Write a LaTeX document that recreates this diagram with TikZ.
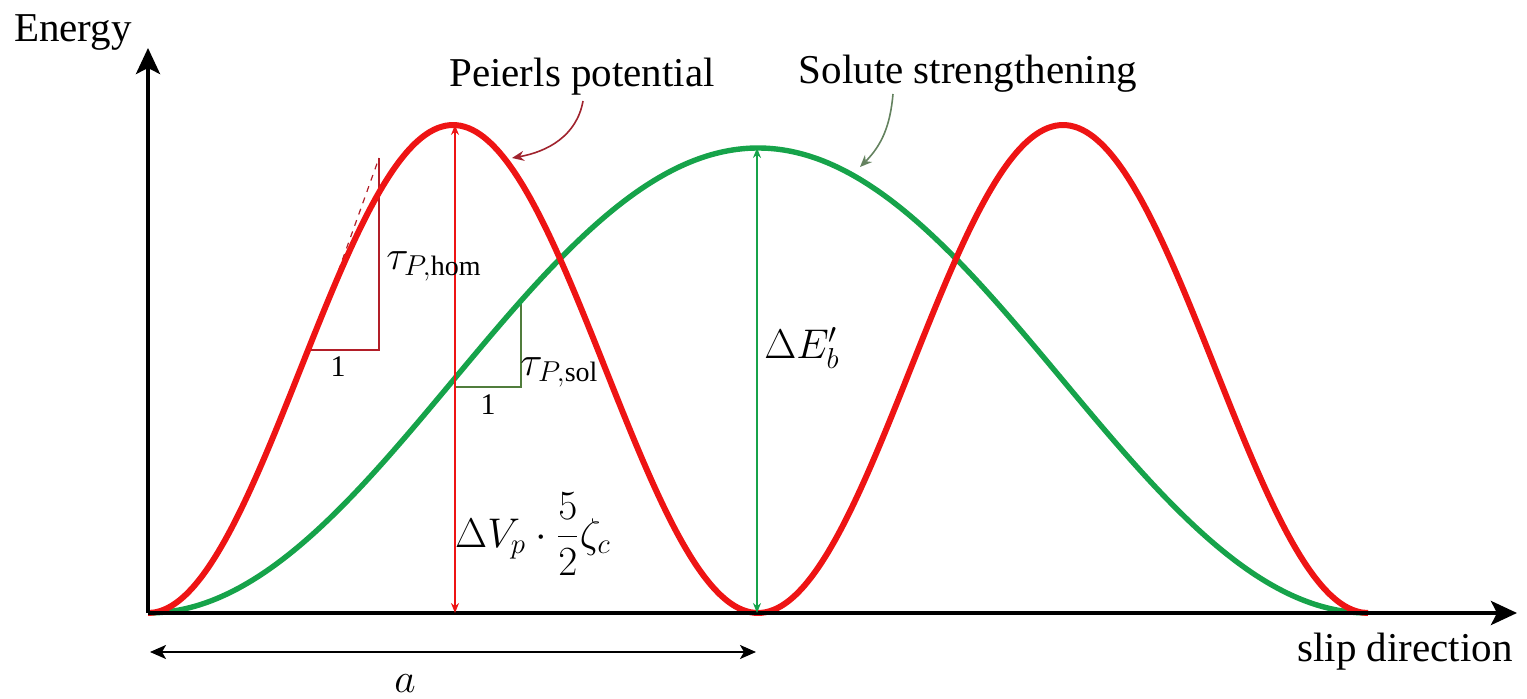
\documentclass[tikz,border=0pt]{standalone}
\usepackage{fontspec}
\setmainfont{Liberation Serif}
\usetikzlibrary{arrows.meta}
\definecolor{cred}{RGB}{238,20,20}
\definecolor{cgreen}{RGB}{22,163,74}
\definecolor{tdred}{RGB}{178,30,40}
\definecolor{tdgreen}{RGB}{80,125,60}
\definecolor{arrred}{RGB}{160,35,45}
\definecolor{arrgreen}{RGB}{100,130,95}
\tikzset{
  lbl/.style={font=\fontsize{20.5}{24}\selectfont, inner sep=0pt},
  mlbl/.style={font=\fontsize{20}{24}\selectfont, inner sep=0pt},
  axis/.style={line width=2pt, -{Stealth[length=13pt,width=12pt,inset=3pt]}},
  dimarrow/.style={line width=1pt, {Stealth[length=5pt,width=4pt]}-{Stealth[length=5pt,width=4pt]}},
  tri/.style={line width=0.9pt},
}
\begin{document}
\begin{tikzpicture}[x=0.5pt,y=-0.5pt]
\useasboundingbox (0,0) rectangle (1527,699);
% coordinates
\coordinate (O) at (148,613);
\coordinate (Ytip) at (148,48);
\coordinate (Xtip) at (1517,613);
\coordinate (Ptop) at (455,125);
\coordinate (Pbot) at (455,613);
\coordinate (Gtop) at (757,148);
\coordinate (Gbot) at (757,613);
\coordinate (A1) at (150,652);
\coordinate (A2) at (756,652);
\coordinate (T1) at (310,350);
\coordinate (T2) at (379,350);
\coordinate (T3) at (379,158);
\coordinate (S1) at (455,387);
\coordinate (S2) at (521,387);
\coordinate (S3) at (521,302);
\coordinate (PA) at (512,158);
\coordinate (SA) at (860,167);
% tangent triangles (under curves)
\draw[tdred, line width=0.6pt, dashed] (T1) -- (T3);
\draw[tdred, tri] (T1) -- (T2) -- (T3);
\draw[tdgreen, tri] (S1) -- (S2) -- (S3);
% curves
\draw[cgreen, line width=2.7pt] plot[domain=0:1220, samples=121, smooth] ({\x+148}, {613-232.5*(1-cos(0.295082*\x))});
\draw[cred, line width=3pt, line join=round] plot[domain=0:1220, samples=161, smooth] ({\x+148}, {613-244*(1-cos(0.590164*\x))});
% axes
\draw[axis] (O) -- (Ytip);
\draw[axis] (O) -- (Xtip);
% dimension arrows
\draw[dimarrow, cred] (Pbot) -- (Ptop);
\draw[dimarrow, cgreen] (Gbot) -- (Gtop);
\draw[line width=1pt, {Stealth[length=8pt,width=7pt,inset=2pt]}-{Stealth[length=8pt,width=7pt,inset=2pt]}] (A1) -- (A2);
% labels
\node[lbl] (energy) at (73,33) {Energy};
\node[lbl] (slip) at (1405,652) {slip direction};
\node[lbl] (peierls) at (582,77) {Peierls potential};
\node[lbl] (solute) at (968,74) {Solute strengthening};
\node[mlbl] (alab) at (405,684) {$a$};
\node[mlbl] (dvp) at (533,534) {$\displaystyle\Delta V_p\cdot\frac{5}{2}\zeta_c$};
\node[mlbl] (deb) at (802,348) {$\Delta E_b'$};
\node[mlbl, anchor=west] (thom) at (386,266) {$\tau_{P,\mathrm{hom}}$};
\node[mlbl, anchor=west] (tsol) at (520,372) {$\tau_{P,\mathrm{sol}}$};
\node[mlbl, font=\fontsize{15}{18}\selectfont] (one1) at (338,367) {1};
\node[mlbl, font=\fontsize{15}{18}\selectfont] (one2) at (488,405) {1};
% pointer arrows
\draw[arrred, line width=0.8pt, -{Stealth[length=6pt,width=5pt]}] (583,101) to[out=-100,in=10] (PA);
\draw[arrgreen, line width=0.8pt, -{Stealth[length=6pt,width=5pt]}] (893,94) to[out=-95,in=45] (SA);
\end{tikzpicture}
\end{document}
